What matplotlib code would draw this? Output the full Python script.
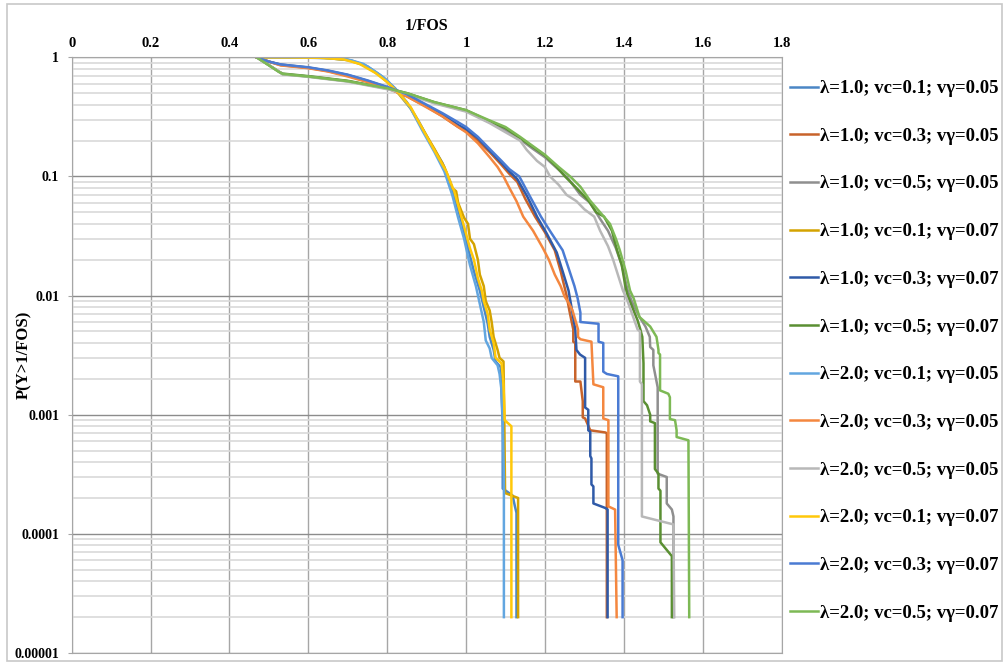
import matplotlib
matplotlib.use("Agg")
import matplotlib.pyplot as plt
from matplotlib.patches import Rectangle
from matplotlib.ticker import LogLocator, NullFormatter

plt.rcParams["font.family"] = ["Liberation Serif", "DejaVu Serif"]
plt.rcParams["font.weight"] = "bold"

labels = [
    "λ=1.0; vc=0.1; vγ=0.05", "λ=1.0; vc=0.3; vγ=0.05", "λ=1.0; vc=0.5; vγ=0.05",
    "λ=1.0; vc=0.1; vγ=0.07", "λ=1.0; vc=0.3; vγ=0.07", "λ=1.0; vc=0.5; vγ=0.07",
    "λ=2.0; vc=0.1; vγ=0.05", "λ=2.0; vc=0.3; vγ=0.05", "λ=2.0; vc=0.5; vγ=0.05",
    "λ=2.0; vc=0.1; vγ=0.07", "λ=2.0; vc=0.3; vγ=0.07", "λ=2.0; vc=0.5; vγ=0.07",
]
colors = ["#4A86C5", "#C8632A", "#8F8F8F", "#D4A300", "#2F5AA8", "#5A8F32",
          "#62A6E0", "#F4873F", "#B8B8B8", "#FFC80A", "#4A7BD3", "#7DB955"]

x_ticks = [0, 0.2, 0.4, 0.6, 0.8, 1.0, 1.2, 1.4, 1.6, 1.8]
x_tick_labels = ["0", "0.2", "0.4", "0.6", "0.8", "1", "1.2", "1.4", "1.6", "1.8"]
y_ticks = [1e-5, 1e-4, 1e-3, 1e-2, 1e-1, 1]
y_tick_labels = ["0.00001", "0.0001", "0.001", "0.01", "0.1", "1"]

# vc = 0.1
s1_x = [0.469, 0.56, 0.65, 0.71, 0.75, 0.79, 0.82, 0.85, 0.88, 0.91, 0.94, 0.96, 0.975, 0.99, 1.005,
        1.02, 1.035, 1.045, 1.055, 1.06, 1.07, 1.075, 1.088, 1.09, 1.093, 1.093, 1.118, 1.124, 1.128, 1.128]
s1_p = [1.0, 0.997, 0.985, 0.94, 0.84, 0.68, 0.55, 0.42, 0.29, 0.19, 0.13, 0.09, 0.06, 0.04, 0.025,
        0.016, 0.011, 0.008, 0.0058, 0.0045, 0.0035, 0.0028, 0.0025, 0.0015, 0.0008, 2.4e-4, 2.1e-4, 1.7e-4, 1.5e-4, 2e-5]
s4_x = [0.469, 0.56, 0.64, 0.70, 0.74, 0.78, 0.80, 0.83, 0.86, 0.89, 0.92, 0.945, 0.965, 0.975, 0.98, 0.995,
        1.005, 1.01, 1.02, 1.03, 1.035, 1.045, 1.05, 1.06, 1.065, 1.07, 1.08, 1.085, 1.095, 1.097, 1.099, 1.132, 1.132]
s4_p = [1.0, 0.997, 0.99, 0.95, 0.86, 0.71, 0.62, 0.49, 0.37, 0.25, 0.17, 0.12, 0.08, 0.075, 0.06, 0.045,
        0.04, 0.03, 0.027, 0.02, 0.015, 0.012, 0.009, 0.0075, 0.006, 0.0045, 0.0035, 0.003, 0.0028, 0.001, 2.2e-4, 2e-4, 2e-5]
s7_x = [0.469, 0.55, 0.64, 0.70, 0.74, 0.78, 0.80, 0.83, 0.86, 0.89, 0.92, 0.945, 0.965, 0.98, 0.995, 1.01,
        1.025, 1.035, 1.045, 1.05, 1.06, 1.065, 1.08, 1.085, 1.09, 1.093, 1.096, 1.096]
s7_p = [1.0, 0.998, 0.99, 0.96, 0.88, 0.72, 0.64, 0.50, 0.37, 0.24, 0.16, 0.11, 0.07, 0.045, 0.03, 0.018,
        0.012, 0.0085, 0.006, 0.0042, 0.0036, 0.003, 0.0026, 0.0022, 0.0016, 0.0009, 0.0003, 2e-5]
s10_x = [0.469, 0.55, 0.63, 0.69, 0.73, 0.77, 0.80, 0.83, 0.86, 0.89, 0.92, 0.95, 0.97, 0.985, 0.995, 1.01,
         1.02, 1.03, 1.04, 1.045, 1.055, 1.06, 1.07, 1.075, 1.09, 1.095, 1.098, 1.115, 1.115]
s10_p = [1.0, 0.998, 0.99, 0.96, 0.88, 0.74, 0.62, 0.50, 0.38, 0.25, 0.165, 0.11, 0.075, 0.05, 0.038, 0.025,
         0.02, 0.014, 0.011, 0.009, 0.007, 0.0052, 0.004, 0.003, 0.0027, 0.0018, 0.0009, 0.0008, 2e-5]

# vc = 0.3
s2_x = [0.469, 0.50, 0.53, 0.60, 0.65, 0.70, 0.75, 0.80, 0.85, 0.90, 0.94, 0.98, 1.0, 1.03, 1.06, 1.09,
        1.11, 1.13, 1.15, 1.175, 1.2, 1.225, 1.24, 1.255, 1.262, 1.268, 1.272, 1.272, 1.277, 1.277, 1.29,
        1.296, 1.296, 1.302, 1.315, 1.353, 1.357, 1.357]
s2_p = [1.0, 0.92, 0.86, 0.815, 0.765, 0.70, 0.625, 0.555, 0.47, 0.385, 0.32, 0.26, 0.24, 0.2, 0.16, 0.125,
        0.105, 0.09, 0.065, 0.046, 0.034, 0.024, 0.016, 0.01, 0.0075, 0.006, 0.0052, 0.0041, 0.004, 0.0019, 0.0019,
        0.0013, 9.5e-4, 9.3e-4, 7.4e-4, 7.1e-4, 7e-4, 2e-5]
s5_x = [0.469, 0.50, 0.53, 0.60, 0.65, 0.70, 0.75, 0.80, 0.85, 0.90, 0.94, 0.98, 1.0, 1.03, 1.06, 1.09,
        1.11, 1.13, 1.155, 1.18, 1.205, 1.23, 1.245, 1.26, 1.266, 1.272, 1.277, 1.28, 1.289, 1.302, 1.302,
        1.31, 1.31, 1.315, 1.315, 1.318, 1.318, 1.323, 1.323, 1.353, 1.359, 1.359]
s5_p = [1.0, 0.92, 0.87, 0.82, 0.77, 0.71, 0.635, 0.56, 0.48, 0.39, 0.33, 0.27, 0.25, 0.21, 0.165, 0.13,
        0.11, 0.095, 0.068, 0.046, 0.033, 0.023, 0.016, 0.011, 0.0085, 0.0065, 0.0052, 0.0035, 0.0032, 0.003, 0.00115,
        0.0011, 7.4e-4, 7.2e-4, 4.5e-4, 4.3e-4, 2.6e-4, 2.5e-4, 1.8e-4, 1.65e-4, 1.6e-4, 2e-5]
s8_x = [0.469, 0.50, 0.53, 0.60, 0.65, 0.70, 0.75, 0.80, 0.85, 0.90, 0.94, 0.98, 1.0, 1.03, 1.06, 1.08,
        1.095, 1.11, 1.128, 1.145, 1.17, 1.195, 1.21, 1.225, 1.24, 1.25, 1.262, 1.27, 1.284, 1.284, 1.29,
        1.318, 1.323, 1.348, 1.348, 1.361, 1.361, 1.378, 1.382]
s8_p = [1.0, 0.92, 0.855, 0.81, 0.76, 0.69, 0.62, 0.55, 0.47, 0.38, 0.32, 0.26, 0.235, 0.19, 0.145, 0.12,
        0.1, 0.08, 0.062, 0.046, 0.035, 0.025, 0.02, 0.015, 0.012, 0.0098, 0.0085, 0.0075, 0.0052, 0.0045, 0.0043,
        0.0041, 0.0018, 0.0017, 9.3e-4, 9e-4, 1.7e-4, 1.6e-4, 2e-5]
s11_x = [0.469, 0.50, 0.53, 0.60, 0.65, 0.70, 0.75, 0.80, 0.85, 0.90, 0.94, 0.98, 1.0, 1.03, 1.06, 1.09,
         1.11, 1.135, 1.16, 1.19, 1.215, 1.245, 1.26, 1.275, 1.283, 1.29, 1.29, 1.336, 1.336, 1.348, 1.348,
         1.357, 1.386, 1.386, 1.397, 1.397]
s11_p = [1.0, 0.92, 0.87, 0.825, 0.775, 0.715, 0.64, 0.565, 0.49, 0.40, 0.34, 0.285, 0.26, 0.215, 0.17, 0.135,
         0.115, 0.1, 0.07, 0.046, 0.034, 0.024, 0.017, 0.012, 0.0095, 0.0072, 0.006, 0.0058, 0.0041, 0.004, 0.0023,
         0.0022, 0.0021, 8.1e-5, 6e-5, 2e-5]

# vc = 0.5
s3_x = [0.469, 0.52, 0.535, 0.60, 0.70, 0.80, 0.85, 0.92, 1.0, 1.06, 1.1, 1.137, 1.17, 1.2, 1.24, 1.26,
        1.29, 1.315, 1.34, 1.36, 1.38, 1.395, 1.41, 1.42, 1.44, 1.455, 1.466, 1.467, 1.475, 1.475, 1.486,
        1.486, 1.509, 1.509, 1.522, 1.526, 1.526]
s3_p = [1.0, 0.78, 0.72, 0.69, 0.63, 0.545, 0.495, 0.415, 0.355, 0.285, 0.245, 0.205, 0.17, 0.145, 0.11, 0.095,
        0.07, 0.06, 0.044, 0.035, 0.025, 0.018, 0.011, 0.009, 0.0066, 0.0055, 0.0045, 0.0037, 0.0035, 0.0026, 0.0017,
        3.2e-4, 3e-4, 1.8e-4, 1.6e-4, 1.4e-4, 2e-5]
s6_x = [0.469, 0.525, 0.535, 0.60, 0.70, 0.80, 0.85, 0.92, 1.0, 1.06, 1.1, 1.137, 1.2, 1.23, 1.251, 1.28,
        1.31, 1.33, 1.35, 1.37, 1.383, 1.395, 1.404, 1.41, 1.425, 1.435, 1.442, 1.447, 1.45, 1.45, 1.459,
        1.467, 1.467, 1.479, 1.479, 1.488, 1.488, 1.493, 1.493, 1.522, 1.522]
s6_p = [1.0, 0.76, 0.73, 0.695, 0.635, 0.55, 0.50, 0.42, 0.36, 0.29, 0.255, 0.21, 0.15, 0.12, 0.1, 0.08,
        0.063, 0.05, 0.046, 0.035, 0.024, 0.018, 0.012, 0.01, 0.0075, 0.0062, 0.0052, 0.0045, 0.0027, 0.0013, 0.0012,
        0.001, 8.8e-4, 8.5e-4, 3.5e-4, 3.2e-4, 2.4e-4, 2.3e-4, 8.5e-5, 6.5e-5, 2e-5]
s9_x = [0.469, 0.52, 0.535, 0.60, 0.70, 0.80, 0.85, 0.92, 1.0, 1.06, 1.1, 1.137, 1.154, 1.18, 1.2, 1.213,
        1.235, 1.255, 1.28, 1.3, 1.325, 1.34, 1.36, 1.373, 1.385, 1.398, 1.407, 1.415, 1.424, 1.435, 1.441,
        1.441, 1.446, 1.446, 1.526, 1.528]
s9_p = [1.0, 0.78, 0.72, 0.685, 0.625, 0.54, 0.49, 0.41, 0.35, 0.28, 0.235, 0.2, 0.167, 0.135, 0.12, 0.1,
        0.085, 0.07, 0.062, 0.053, 0.046, 0.035, 0.026, 0.02, 0.015, 0.011, 0.0095, 0.008, 0.0066, 0.0052, 0.005,
        0.0019, 0.0018, 1.4e-4, 1.2e-4, 2e-5]
s12_x = [0.469, 0.525, 0.535, 0.60, 0.70, 0.80, 0.85, 0.92, 1.0, 1.06, 1.1, 1.137, 1.2, 1.235, 1.264, 1.29,
         1.314, 1.34, 1.365, 1.38, 1.39, 1.405, 1.416, 1.425, 1.44, 1.467, 1.483, 1.488, 1.488, 1.492, 1.492,
         1.513, 1.517, 1.517, 1.53, 1.534, 1.534, 1.564, 1.566]
s12_p = [1.0, 0.755, 0.725, 0.69, 0.63, 0.55, 0.50, 0.42, 0.36, 0.295, 0.26, 0.215, 0.152, 0.12, 0.1, 0.082,
         0.063, 0.05, 0.04, 0.03, 0.024, 0.016, 0.011, 0.0095, 0.0066, 0.0055, 0.0045, 0.0035, 0.0033, 0.0032, 0.0016,
         0.0015, 0.0014, 9.2e-4, 9e-4, 7.4e-4, 6.5e-4, 6.1e-4, 2e-5]

xs = [s1_x, s2_x, s3_x, s4_x, s5_x, s6_x, s7_x, s8_x, s9_x, s10_x, s11_x, s12_x]
ps = [s1_p, s2_p, s3_p, s4_p, s5_p, s6_p, s7_p, s8_p, s9_p, s10_p, s11_p, s12_p]

W, H = 1005, 663
fig = plt.figure(figsize=(W / 100, H / 100), dpi=100)
fig.patches.append(Rectangle((7 / W, 2 / H), 995 / W, 657 / H, transform=fig.transFigure,
                             fill=False, edgecolor="#C8C8C8", lw=1.2))

ax = fig.add_axes([71.7 / W, 10 / H, 709.8 / W, 595.7 / H])
for x, p, c, lab in zip(xs, ps, colors, labels):
    ax.plot(x, p, color=c, lw=1.8, label=lab)

ax.set_yscale("log")
ax.set_ylim(1e-5, 1)
ax.set_xlim(0, 1.8)
ax.xaxis.tick_top()
ax.xaxis.set_label_position("top")
ax.set_xticks(x_ticks)
ax.set_xticklabels(x_tick_labels, fontsize=10.5)
ax.set_yticks(y_ticks)
ax.set_yticklabels(y_tick_labels, fontsize=10)
ax.yaxis.set_minor_locator(LogLocator(base=10, subs=range(2, 10)))
ax.yaxis.set_minor_formatter(NullFormatter())
ax.tick_params(axis="x", length=0, pad=5)
ax.tick_params(axis="y", which="major", length=3, color="#A6A6A6", pad=6)
ax.tick_params(axis="y", which="minor", length=0)

ax.grid(which="major", axis="y", color="#8C8C8C", lw=1.0)
ax.grid(which="minor", axis="y", color="#D9D9D9", lw=1.2)
ax.grid(which="major", axis="x", color="#A6A6A6", lw=1.0)
ax.set_axisbelow(True)
for sp in ax.spines.values():
    sp.set_color("#A6A6A6")

ax.set_xlabel("1/FOS", fontsize=11.5, fontweight="bold", labelpad=5)
ax.set_ylabel("P(Y>1/FOS)", fontsize=12, fontweight="bold")
ax.yaxis.set_label_coords((32 - 71.7) / 709.8, 0.5)

fig.legend(loc="upper left", bbox_to_anchor=(790 / W, 1 - 80 / H), bbox_transform=fig.transFigure,
           frameon=False, fontsize=13.5, handlelength=1.5, handletextpad=0.1,
           labelspacing=1.63, borderpad=0, borderaxespad=0)

fig.savefig("out.png", dpi=100)
